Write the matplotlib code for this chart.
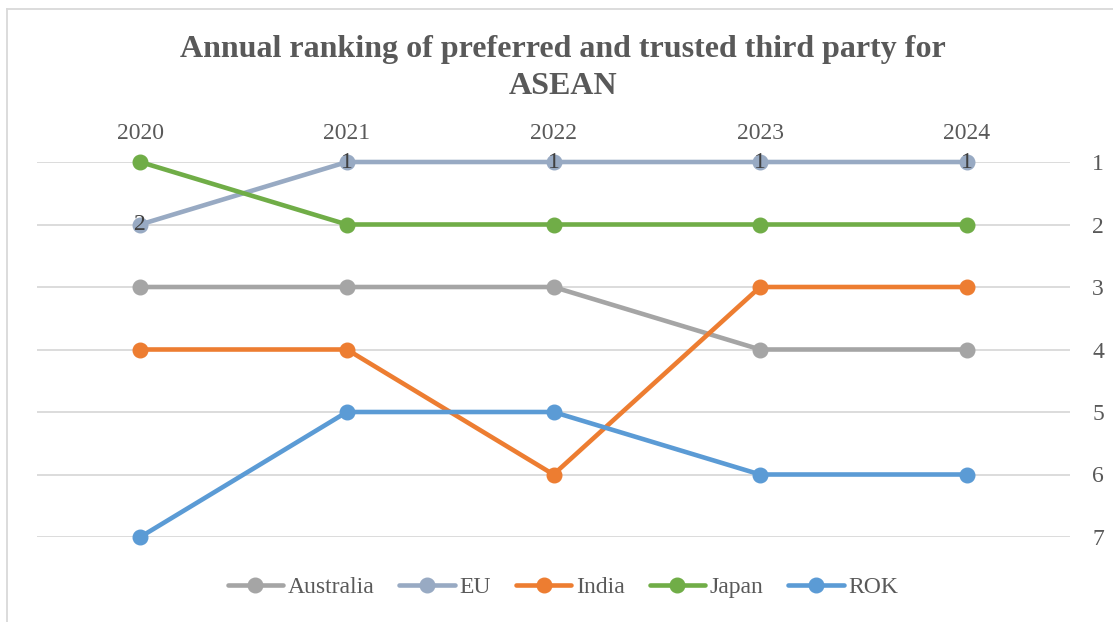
import matplotlib.pyplot as plt
from matplotlib.lines import Line2D

years = ['2020', '2021', '2022', '2023', '2024']
series = ['Australia', 'EU', 'India', 'Japan', 'ROK']
australia = [3, 3, 3, 4, 4]
eu = [2, 1, 1, 1, 1]
india = [4, 4, 6, 3, 3]
japan = [1, 2, 2, 2, 2]
rok = [7, 5, 5, 6, 6]
colors = ['#A5A5A5', '#98AAC3', '#ED7D31', '#70AD47', '#5B9BD5']

plt.rcParams['font.family'] = ['Liberation Serif', 'DejaVu Serif']
txt = '#595959'

fig = plt.figure(figsize=(11.13, 6.22), dpi=100)
ax = fig.add_axes([37/1113, 1-537/622, 1033/1113, 375/622])

x = list(range(len(years)))
for name, vals, c in zip(series, [australia, eu, india, japan, rok], colors):
    ax.plot(x, vals, color=c, lw=3.3, marker='o', ms=10.5, label=name,
            clip_on=False, solid_capstyle='round')

# data labels on the EU series
for xi, v in zip(x, eu):
    ax.text(xi, v, str(v), ha='center', va='center', fontsize=17,
            color='#404040', zorder=5)

ax.set_xlim(-0.5, 4.5)
ax.set_ylim(7, 1)
ax.set_yticks(range(1, 8))
ax.yaxis.tick_right()
ax.xaxis.tick_top()
ax.set_xticks(x)
ax.set_xticklabels(years)
ax.tick_params(axis='both', length=0, labelsize=17, labelcolor=txt)
ax.tick_params(axis='x', pad=13)
ax.tick_params(axis='y', pad=16)
ax.grid(axis='y', color='#D9D9D9', lw=1.3)
ax.set_axisbelow(True)
for s in ax.spines.values():
    s.set_visible(False)

fig.text(563/1113, 1-68/622, 'Annual ranking of preferred and trusted third party for\nASEAN',
         ha='center', va='center', fontsize=23, fontweight='bold', color=txt,
         linespacing=1.38)

fig.legend(loc='center', bbox_to_anchor=(563/1113, 1-587/622), ncol=5,
           frameon=False, fontsize=17, labelcolor=txt, handlelength=2.35,
           handletextpad=0.2, columnspacing=1.05)

# chart border (only left and top visible in the crop)
fig.add_artist(Line2D([7/1113, 7/1113], [0, 1-9/622], color='#D9D9D9', lw=1.3))
fig.add_artist(Line2D([7/1113, 1], [1-9/622, 1-9/622], color='#D9D9D9', lw=1.3))

fig.savefig('out.png', dpi=100)
